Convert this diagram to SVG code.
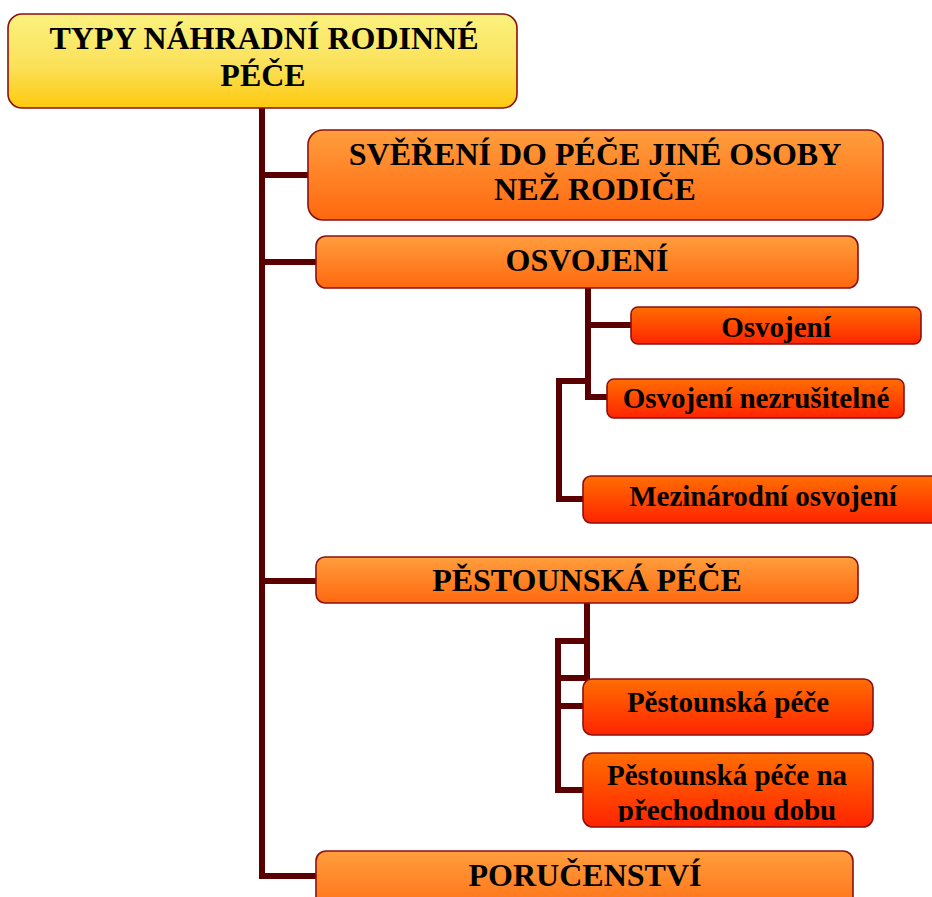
<svg xmlns="http://www.w3.org/2000/svg" width="932" height="897" viewBox="0 0 932 897">
<defs>
<linearGradient id="gY" x1="0" y1="0" x2="0" y2="1"><stop offset="0" stop-color="#FAF27E"/><stop offset="0.55" stop-color="#FBE15A"/><stop offset="1" stop-color="#FFC90E"/></linearGradient>
<linearGradient id="gO" x1="0" y1="0" x2="0" y2="1"><stop offset="0" stop-color="#FF9E3D"/><stop offset="1" stop-color="#FF680F"/></linearGradient>
<linearGradient id="gR" x1="0" y1="0" x2="0" y2="1"><stop offset="0" stop-color="#FF6E00"/><stop offset="1" stop-color="#FF2400"/></linearGradient>
<clipPath id="clipP"><rect x="583" y="753" width="290" height="69"/></clipPath>
</defs>
<style>
.box{stroke:#8B1010;stroke-width:1.6}
.top{fill:url(#gY)}
.l1{fill:url(#gO)}
.l2{fill:url(#gR)}
.t{font-family:"Liberation Serif","Times New Roman",serif;font-weight:bold;fill:#000;text-anchor:middle}
.t1{font-size:32px}
.t2{font-size:29px}
.con{fill:none;stroke:#5A0000;stroke-width:6;stroke-linecap:square;stroke-linejoin:miter}
</style>
<rect width="932" height="897" fill="#fff"/>
<g id="connectors">
<path class="con" d="M262,108 V876 H313"/>
<path class="con" d="M262,175 H305"/>
<path class="con" d="M262,262 H313"/>
<path class="con" d="M262,581 H313"/>
<path class="con" d="M588,288 V397 H604"/>
<path class="con" d="M588,325 H628"/>
<path class="con" d="M588,381 H559 V499 H580"/>
<path class="con" d="M587,603 V678 H558"/>
<path class="con" d="M587,641 H558 V790 H580"/>
<path class="con" d="M558,706 H580"/>
</g>
<g id="n-root">
<rect class="box top" x="8" y="14" width="509" height="94" rx="14"/>
<text class="t t1" x="264" y="49">TYPY NÁHRADNÍ RODINNÉ</text>
<text class="t t1" x="263" y="86">PÉČE</text>
</g>
<g id="n-sverení">
<rect class="box l1" x="308" y="130" width="575" height="90" rx="15"/>
<text class="t t1" x="595" y="165">SVĚŘENÍ DO PÉČE JINÉ OSOBY</text>
<text class="t t1" x="595" y="200">NEŽ RODIČE</text>
</g>
<g id="n-osvojeni">
<rect class="box l1" x="316" y="236" width="542" height="52" rx="10"/>
<text class="t t1" x="587" y="271">OSVOJENÍ</text>
</g>
<g id="n-osvojeni-a">
<rect class="box l2" x="631" y="307" width="290" height="37" rx="7"/>
<text class="t t2" x="776" y="337">Osvojení</text>
</g>
<g id="n-osvojeni-b">
<rect class="box l2" x="607" y="379" width="297" height="39" rx="7"/>
<text class="t t2" x="756" y="408">Osvojení nezrušitelné</text>
</g>
<g id="n-osvojeni-c">
<rect class="box l2" x="583" y="476" width="360" height="47" rx="8"/>
<text class="t t2" x="763" y="506">Mezinárodní osvojení</text>
</g>
<g id="n-pestounska">
<rect class="box l1" x="316" y="557" width="542" height="46" rx="9"/>
<text class="t t1" x="587" y="591">PĚSTOUNSKÁ PÉČE</text>
</g>
<g id="n-pestounska-a">
<rect class="box l2" x="583" y="679" width="290" height="56" rx="9"/>
<text class="t t2" x="728" y="712">Pěstounská péče</text>
</g>
<g id="n-pestounska-b">
<rect class="box l2" x="583" y="753" width="290" height="74" rx="10"/>
<g clip-path="url(#clipP)">
<text class="t t2" x="727" y="785">Pěstounská péče na</text>
<text class="t t2" x="727" y="820">přechodnou dobu</text>
</g>
</g>
<g id="n-porucenstvi">
<rect class="box l1" x="316" y="851" width="537" height="70" rx="10"/>
<text class="t t1" x="585" y="886">PORUČENSTVÍ</text>
</g>
</svg>
